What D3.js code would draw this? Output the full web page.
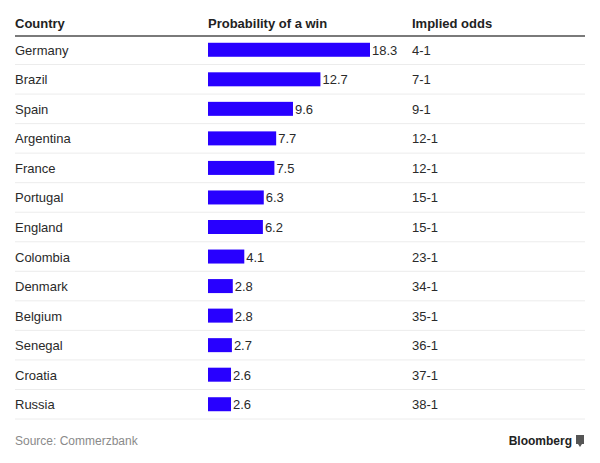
<!DOCTYPE html>
<html>
<head>
<meta charset="utf-8">
<script src="https://cdn.jsdelivr.net/npm/d3@7"></script>
<style>
  body { margin: 0; background: #fff; }
  text { font-family: "Liberation Sans", Arial, sans-serif; }
</style>
</head>
<body>
<svg id="chart" width="600" height="463"></svg>
<script>
// values
const countries = ['Germany', 'Brazil', 'Spain', 'Argentina', 'France', 'Portugal', 'England',
    'Colombia', 'Denmark', 'Belgium', 'Senegal', 'Croatia', 'Russia']
const winProbability = [18.3, 12.7, 9.6, 7.7, 7.5, 6.3, 6.2, 4.1, 2.8, 2.8, 2.7, 2.6, 2.6]
const impliedOdds = ['4-1', '7-1', '9-1', '12-1', '12-1', '15-1', '15-1', '23-1', '34-1', '35-1', '36-1', '37-1', '38-1']
const headers = ['Country', 'Probability of a win', 'Implied odds']

const svg = d3.select('#chart')
const left = 15, right = 585
const colCountry = 15, colBar = 208, colOdds = 412

// rows
const y = d3.scaleBand()
    .domain(countries)
    .range([35, 419])

const x = d3.scaleLinear()
    .domain([0, 18.3])
    .range([0, 162])

// header
svg.selectAll('text.header')
    .data(headers)
    .enter()
    .append('text')
    .attr('class', 'header')
    .attr('x', (d, i) => [colCountry, colBar, colOdds][i])
    .attr('y', 28)
    .attr('font-size', 13)
    .attr('font-weight', 'bold')
    .attr('fill', '#222')
    .text(d => d)

const rows = svg.selectAll('g.row')
    .data(countries)
    .enter()
    .append('g')
    .attr('class', 'row')
    .attr('transform', d => `translate(0,${y(d)})`)

rows.append('line')
    .attr('x1', left).attr('x2', right)
    .attr('y1', y.bandwidth()).attr('y2', y.bandwidth())
    .attr('stroke', '#ececec')
    .attr('stroke-width', 1)

rows.append('text')
    .attr('x', colCountry)
    .attr('y', y.bandwidth() / 2 + 5)
    .attr('font-size', 13)
    .attr('fill', '#2a2a2a')
    .text(d => d)

rows.append('rect')
    .attr('x', colBar)
    .attr('y', y.bandwidth() / 2 - 7)
    .attr('height', 14)
    .attr('width', (d, i) => x(winProbability[i]))
    .attr('fill', '#2800ff')

rows.append('text')
    .attr('x', (d, i) => colBar + x(winProbability[i]) + 2)
    .attr('y', y.bandwidth() / 2 + 5)
    .attr('font-size', 13)
    .attr('fill', '#2a2a2a')
    .text((d, i) => winProbability[i])

rows.append('text')
    .attr('x', colOdds)
    .attr('y', y.bandwidth() / 2 + 5)
    .attr('font-size', 13)
    .attr('fill', '#2a2a2a')
    .text((d, i) => impliedOdds[i])

svg.append('line')
    .attr('x1', left).attr('x2', right)
    .attr('y1', 36).attr('y2', 36)
    .attr('stroke', '#7a7a7a')
    .attr('stroke-width', 2)

// footer
svg.append('text')
    .attr('x', left)
    .attr('y', 445)
    .attr('font-size', 12)
    .attr('fill', '#8a8a8a')
    .text('Source: Commerzbank')

svg.append('text')
    .attr('x', 572)
    .attr('y', 445)
    .attr('text-anchor', 'end')
    .attr('font-size', 12)
    .attr('font-weight', 'bold')
    .attr('fill', '#222')
    .text('Bloomberg')

// small logo mark
const logo = svg.append('g').attr('transform', 'translate(576,435)')
logo.append('rect').attr('width', 8).attr('height', 9).attr('fill', '#555')
logo.append('path').attr('d', 'M2,9 L4,12 L6,9 Z').attr('fill', '#555')
</script>
</body>
</html>
